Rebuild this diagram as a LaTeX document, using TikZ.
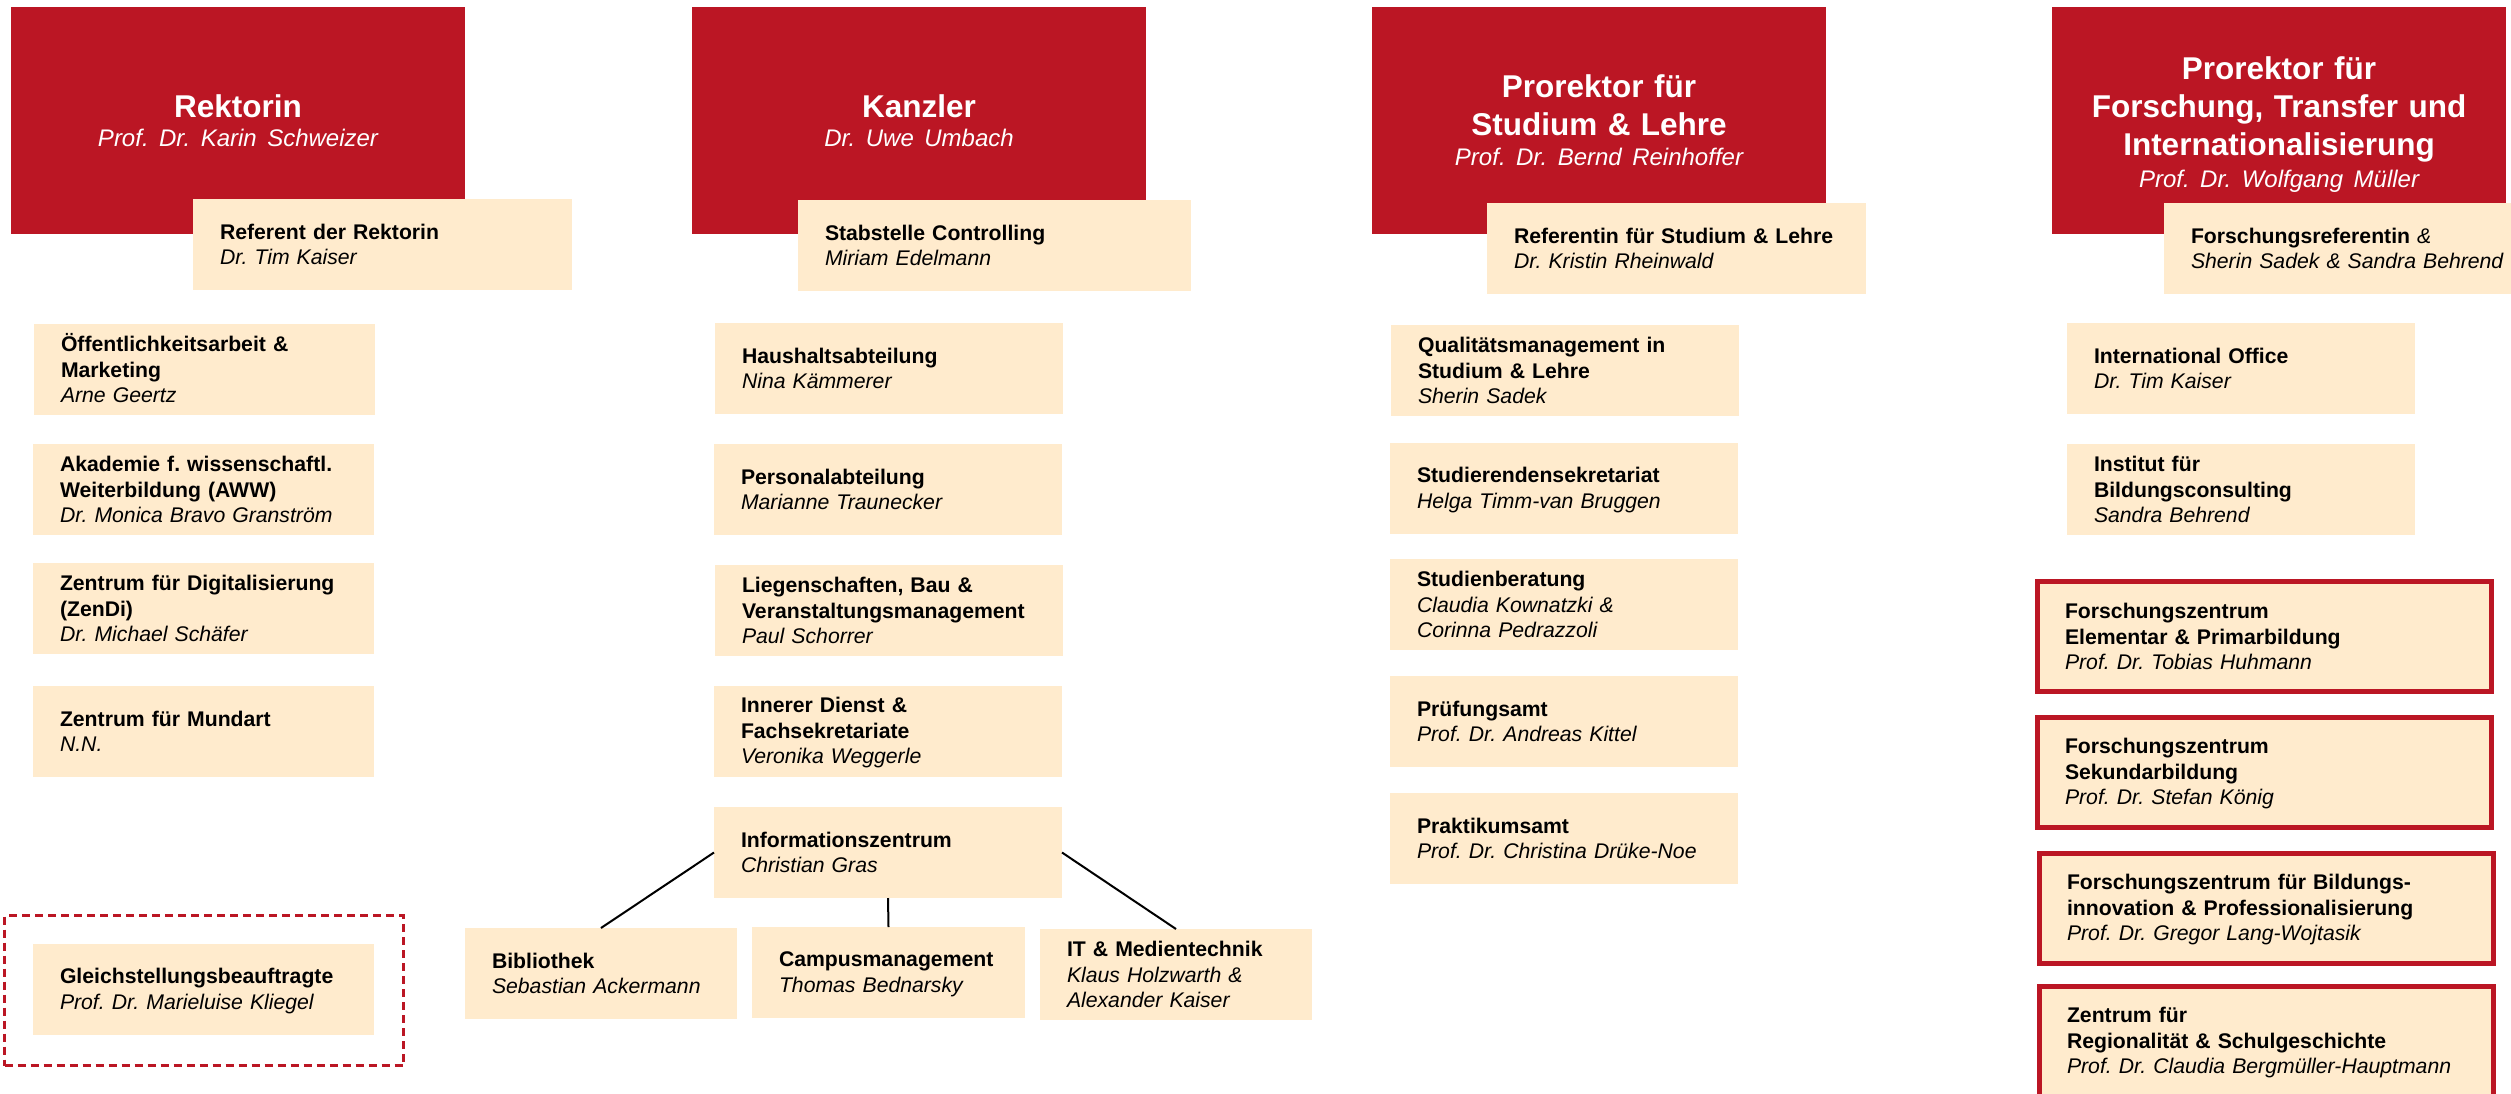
\documentclass[tikz,border=0pt]{standalone}
\usepackage{fontspec}
\setmainfont{Liberation Sans}
\frenchspacing
\definecolor{hred}{RGB}{187,22,36}
\definecolor{cream}{RGB}{255,235,205}
\newcommand\mys{\rule[-3pt]{0pt}{21pt}}
\newcommand\hname[1]{{\fontsize{24}{29}\selectfont\mdseries\itshape #1}}
\tikzset{
  head/.style={fill=hred, text=white, anchor=north west, outer sep=0pt,
    inner xsep=0pt, inner ysep=0pt, text width=454pt, minimum width=454pt,
    minimum height=227pt, align=center, font=\fontsize{31.5}{38}\selectfont\bfseries\frenchspacing},
  cbox/.style={fill=cream, anchor=north west, outer sep=0pt, inner xsep=27pt,
    inner ysep=0pt, text width=#1, minimum height=91pt, align=left,
    font=\fontsize{21.2}{25.5}\selectfont\frenchspacing},
  rbox/.style={fill=cream, draw=hred, line width=5pt, anchor=north west, outer sep=0pt,
    inner xsep=27.5pt, inner ysep=0pt, text width=399pt, minimum height=110pt,
    align=left, font=\fontsize{21.2}{25.5}\selectfont\frenchspacing},
  dashframe/.style={draw=hred, line width=3pt, dash pattern=on 8pt off 5pt,
    anchor=north west, outer sep=0pt, inner sep=0pt, minimum width=399pt, minimum height=150pt},
  conn/.style={draw=black, line width=2pt}
}
\begin{document}
\begin{tikzpicture}[x=1pt,y=-1pt]
\useasboundingbox (0,0) rectangle (2511,1093);

% header boxes
\node[head] (rek) at (11,7) {Rektorin\\[-9pt]\hname{Prof. Dr. Karin Schweizer}};
\node[head] (kan) at (692,7) {Kanzler\\[-9pt]\hname{Dr. Uwe Umbach}};
\node[head] (psl) at (1372,7) {Prorektor für\\Studium \& Lehre\\[-8pt]\hname{Prof. Dr. Bernd Reinhoffer}};
\node[head] (pft) at (2052,7) {\rule{0pt}{30pt}Prorektor für\\Forschung, Transfer und\\Internationalisierung\\[-6pt]\hname{Prof. Dr. Wolfgang Müller}};

% staff boxes overlapping headers
\node[cbox=325pt] (ref1) at (193,199) {\mys\textbf{Referent der Rektorin}\\\textit{Dr. Tim Kaiser}\mys};
\node[cbox=339pt] (ref2) at (798,200) {\mys\textbf{Stabstelle Controlling}\\\textit{Miriam Edelmann}\mys};
\node[cbox=325pt] (ref3) at (1487,203) {\mys\textbf{Referentin für Studium \& Lehre}\\\textit{Dr. Kristin Rheinwald}\mys};
\node[cbox=320pt] (ref4) at (2164,203) {\mys\textbf{Forschungsreferentin} \textit{\&}\\\textit{Sherin Sadek \& Sandra Behrend}\mys};

% column 1
\node[cbox=287pt] (oeff) at (34,324) {\mys\textbf{Öffentlichkeitsarbeit \&}\\\textbf{Marketing}\\\textit{Arne Geertz}\mys};
\node[cbox=287pt] (aww) at (33,444) {\mys\textbf{Akademie f. wissenschaftl.}\\\textbf{Weiterbildung (AWW)}\\\textit{Dr. Monica Bravo Granström}\mys};
\node[cbox=287pt] (zendi) at (33,563) {\mys\textbf{Zentrum für Digitalisierung}\\\textbf{(ZenDi)}\\\textit{Dr. Michael Schäfer}\mys};
\node[cbox=287pt] (mund) at (33,686) {\mys\textbf{Zentrum für Mundart}\\\textit{N.N.}\mys};
\node[dashframe] (gframe) at (4.5,915.5) {};
\node[cbox=287pt] (gleich) at (33,944) {\mys\textbf{Gleichstellungsbeauftragte}\\\textit{Prof. Dr. Marieluise Kliegel}\mys};

% column 2
\node[cbox=294pt] (haus) at (715,323) {\mys\textbf{Haushaltsabteilung}\\\textit{Nina Kämmerer}\mys};
\node[cbox=294pt] (pers) at (714,444) {\mys\textbf{Personalabteilung}\\\textit{Marianne Traunecker}\mys};
\node[cbox=294pt] (lieg) at (715,565) {\mys\textbf{Liegenschaften, Bau \&}\\\textbf{Veranstaltungsmanagement}\\\textit{Paul Schorrer}\mys};
\node[cbox=294pt] (inner) at (714,686) {\mys\textbf{Innerer Dienst \&}\\\textbf{Fachsekretariate}\\\textit{Veronika Weggerle}\mys};
\node[cbox=294pt] (info) at (714,807) {\mys\textbf{Informationszentrum}\\\textit{Christian Gras}\mys};
\node[cbox=218pt] (bib) at (465,928) {\mys\textbf{Bibliothek}\\\textit{Sebastian Ackermann}\mys};
\node[cbox=219pt] (camp) at (752,927) {\mys\textbf{Campusmanagement}\\\textit{Thomas Bednarsky}\mys};
\node[cbox=218pt] (it) at (1040,929) {\mys\textbf{IT \& Medientechnik}\\\textit{Klaus Holzwarth \&}\\\textit{Alexander Kaiser}\mys};
\draw[conn] (info.west) -- (bib.north);
\draw[conn] (info.south) -- (camp.north);
\draw[conn] (info.east) -- (it.north);

% column 3
\node[cbox=294pt] (qual) at (1391,325) {\mys\textbf{Qualitätsmanagement in}\\\textbf{Studium \& Lehre}\\\textit{Sherin Sadek}\mys};
\node[cbox=294pt] (stud) at (1390,443) {\mys\textbf{Studierendensekretariat}\\\textit{Helga Timm-van Bruggen}\mys};
\node[cbox=294pt] (berat) at (1390,559) {\mys\textbf{Studienberatung}\\\textit{Claudia Kownatzki \&}\\\textit{Corinna Pedrazzoli}\mys};
\node[cbox=294pt] (pruef) at (1390,676) {\mys\textbf{Prüfungsamt}\\\textit{Prof. Dr. Andreas Kittel}\mys};
\node[cbox=294pt] (prakt) at (1390,793) {\mys\textbf{Praktikumsamt}\\\textit{Prof. Dr. Christina Drüke-Noe}\mys};

% column 4
\node[cbox=294pt] (intl) at (2067,323) {\mys\textbf{International Office}\\\textit{Dr. Tim Kaiser}\mys};
\node[cbox=294pt] (inst) at (2067,444) {\mys\textbf{Institut für}\\\textbf{Bildungsconsulting}\\\textit{Sandra Behrend}\mys};
\node[rbox] (fz1) at (2037.5,581.5) {\mys\textbf{Forschungszentrum}\\\textbf{Elementar \& Primarbildung}\\\textit{Prof. Dr. Tobias Huhmann}\mys};
\node[rbox] (fz2) at (2037.5,717.5) {\mys\textbf{Forschungszentrum}\\\textbf{Sekundarbildung}\\\textit{Prof. Dr. Stefan König}\mys};
\node[rbox] (fz3) at (2039.5,853.5) {\mys\textbf{Forschungszentrum für Bildungs-}\\\textbf{innovation \& Professionalisierung}\\\textit{Prof. Dr. Gregor Lang-Wojtasik}\mys};
\node[rbox] (fz4) at (2039.5,986.5) {\mys\textbf{Zentrum für}\\\textbf{Regionalität \& Schulgeschichte}\\\textit{Prof. Dr. Claudia Bergmüller-Hauptmann}\mys};
\end{tikzpicture}
\end{document}
